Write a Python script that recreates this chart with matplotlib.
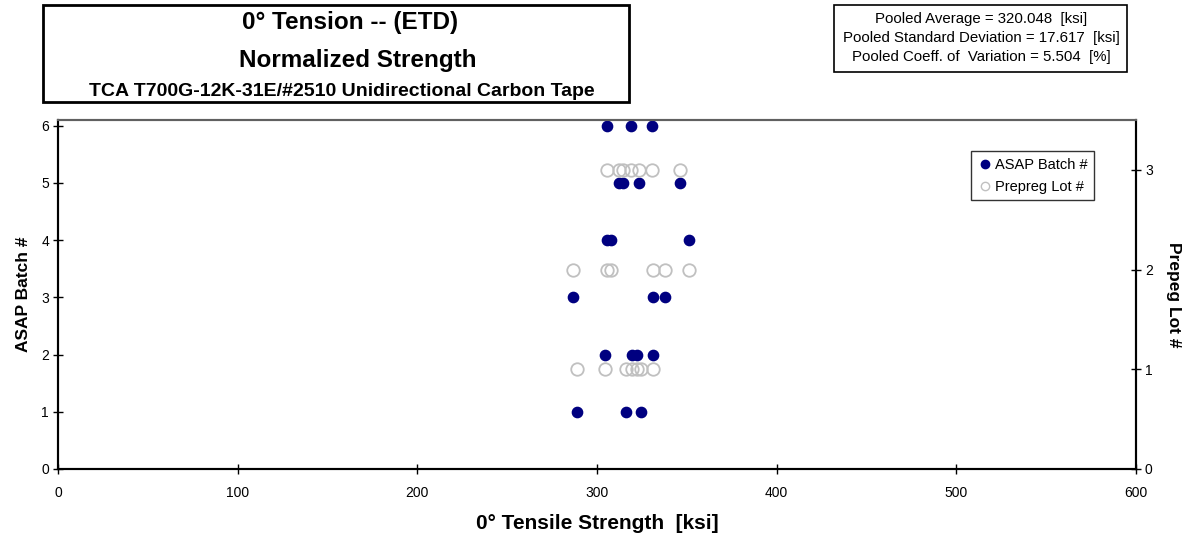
import matplotlib.pyplot as plt
from matplotlib.patches import Rectangle
from matplotlib.lines import Line2D

plt.rcParams['font.family'] = ['Liberation Sans', 'DejaVu Sans']

# Normalized 0 deg tensile strength [ksi] for each ASAP batch
batch_1 = [288.7, 316.1, 324.3]
batch_2 = [304.7, 319.5, 322.3, 331.3]
batch_3 = [286.8, 331.3, 337.7]
batch_4 = [305.6, 307.8, 351.2]
batch_5 = [312.2, 314.5, 323.4, 346.2]
batch_6 = [305.6, 318.9, 330.6]

batches = [batch_1, batch_2, batch_3, batch_4, batch_5, batch_6]
batch_ids = [1, 2, 3, 4, 5, 6]
# prepreg lot each batch was made from
batch_lot = [1, 1, 2, 2, 3, 3]

pooled_avg = 320.048
pooled_sd = 17.617
pooled_cv = 5.504

navy = '#000080'
grey = '#c0c0c0'

fig = plt.figure(figsize=(11.88, 5.42), dpi=100)
ax = fig.add_axes([0.0488, 0.1347, 0.9074, 0.6439])
ax2 = ax.twinx()

for b, vals in zip(batch_ids, batches):
    ax.plot(vals, [b] * len(vals), 'o', color=navy, ms=7.4, mec=navy, zorder=3)

for lot, vals in zip(batch_lot, batches):
    ax2.plot(vals, [lot] * len(vals), 'o', mfc='none', mec=grey, ms=9, mew=1.3)

ax.set_xlim(0, 600)
ax.set_ylim(0, 6.1)
ax2.set_ylim(0, 3.5)
ax.set_xticks(range(0, 601, 100))
ax.set_yticks(range(0, 7))
ax2.set_yticks(range(0, 4))

for a in (ax, ax2):
    a.tick_params(direction='inout', length=7, width=1, labelsize=10, pad=3)
    for s in a.spines.values():
        s.set_linewidth(1.5)
    a.spines['top'].set_color('#606060')
ax.tick_params(axis='x', pad=9)

ax.set_xlabel('0° Tensile Strength  [ksi]', fontsize=15, fontweight='bold', labelpad=10)
ax.set_ylabel('ASAP Batch #', fontsize=12.5, fontweight='bold', labelpad=7)
ax2.set_ylabel('Prepeg Lot #', fontsize=12.5, fontweight='bold', rotation=-90, labelpad=20)

handles = [
    Line2D([], [], marker='o', ls='none', color=navy, ms=6),
    Line2D([], [], marker='o', ls='none', mfc='none', mec=grey, ms=6, mew=1),
]
leg = ax2.legend(handles, ['ASAP Batch #', 'Prepreg Lot #'], loc='upper right',
                 bbox_to_anchor=(0.9610, 0.9110), fontsize=10.5, frameon=True, fancybox=False,
                 handletextpad=0.15, handlelength=1.0, borderpad=0.45, labelspacing=0.55,
                 borderaxespad=0)
leg.get_frame().set_edgecolor('black')
leg.get_frame().set_linewidth(1)

# title box
fig.patches.append(Rectangle((43 / 1188, 1 - 102 / 542), 586 / 1188, 97 / 542,
                             transform=fig.transFigure, fill=False, ec='black', lw=2))
fig.text(350 / 1188, 1 - 23 / 542, '0° Tension -- (ETD)', ha='center', va='center',
         fontsize=17.5, fontweight='bold')
fig.text(358 / 1188, 1 - 60 / 542, 'Normalized Strength', ha='center', va='center',
         fontsize=17.5, fontweight='bold')
fig.text(342 / 1188, 1 - 91 / 542, 'TCA T700G-12K-31E/#2510 Unidirectional Carbon Tape',
         ha='center', va='center', fontsize=14, fontweight='bold')

# pooled statistics box
fig.patches.append(Rectangle((834 / 1188, 1 - 72 / 542), 293 / 1188, 67 / 542,
                             transform=fig.transFigure, fill=False, ec='black', lw=1.2))
stats = [f'Pooled Average = {pooled_avg:.3f}  [ksi]',
         f'Pooled Standard Deviation = {pooled_sd:.3f}  [ksi]',
         f'Pooled Coeff. of  Variation = {pooled_cv:.3f}  [%]']
for i, line in enumerate(stats):
    fig.text(981 / 1188, 1 - (19 + 19 * i) / 542, line, ha='center', va='center', fontsize=10.8)

fig.savefig('out.png', dpi=100)
